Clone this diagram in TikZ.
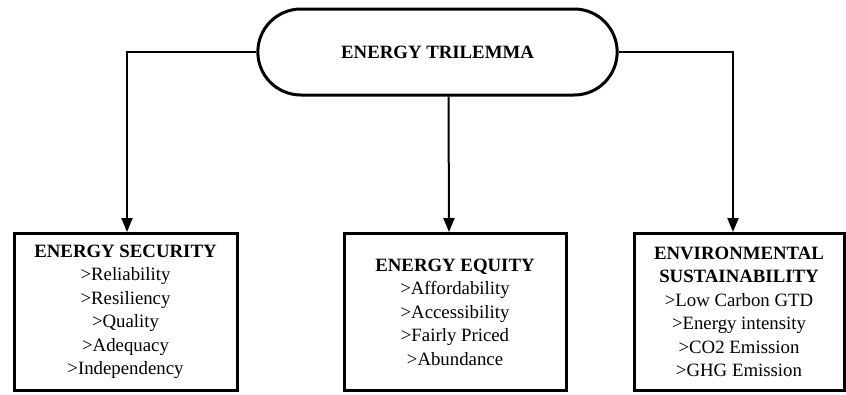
\documentclass[tikz,border=0pt]{standalone}
\usepackage{fontspec}
\setmainfont{Liberation Serif}
\usepackage{tikz}
\usetikzlibrary{shapes.misc, arrows.meta, positioning, calc}

\begin{document}
\begin{tikzpicture}[
    x=1pt, y=-1pt,
    font=\fontsize{18.8}{23.5}\selectfont,
    head/.style={rounded rectangle, draw, line width=3pt, minimum width=366pt, minimum height=86pt, font=\fontsize{18.8}{23.5}\selectfont\bfseries},
    box/.style={rectangle, draw, line width=3pt, align=center, minimum height=157pt, inner sep=0pt},
    link/.style={draw, line width=2pt, -{Triangle[length=14pt,width=11pt]}}
]
\useasboundingbox (0,0) rectangle (846,394);

\node [head] (trilemma) at (437.5,52) {\raisebox{-3pt}{ENERGY TRILEMMA}};

\node [box, minimum width=223pt] (security) at (125.5,312) {\textbf{ENERGY SECURITY} \\ >Reliability \\ >Resiliency \\ >Quality \\ >Adequacy \\ >Independency};
\node [box, minimum width=222pt] (equity) at (455,312) {\textbf{ENERGY EQUITY} \\ >Affordability \\ >Accessibility \\ >Fairly Priced \\ >Abundance};
\node [box, minimum width=210pt] (environment) at (739,312) {\textbf{ENVIRONMENTAL} \\ \textbf{SUSTAINABILITY} \\ >Low Carbon GTD \\ >Energy intensity \\ >CO2 Emission \\ >GHG Emission};

% connectors
\draw [link] (trilemma.west) -| ([xshift=1.5pt]security.north);
\draw [link] ([xshift=11pt]trilemma.south) -- ([xshift=-6pt]equity.north);
\draw [link] (trilemma.east) -| ([xshift=-6pt]environment.north);
\end{tikzpicture}
\end{document}
